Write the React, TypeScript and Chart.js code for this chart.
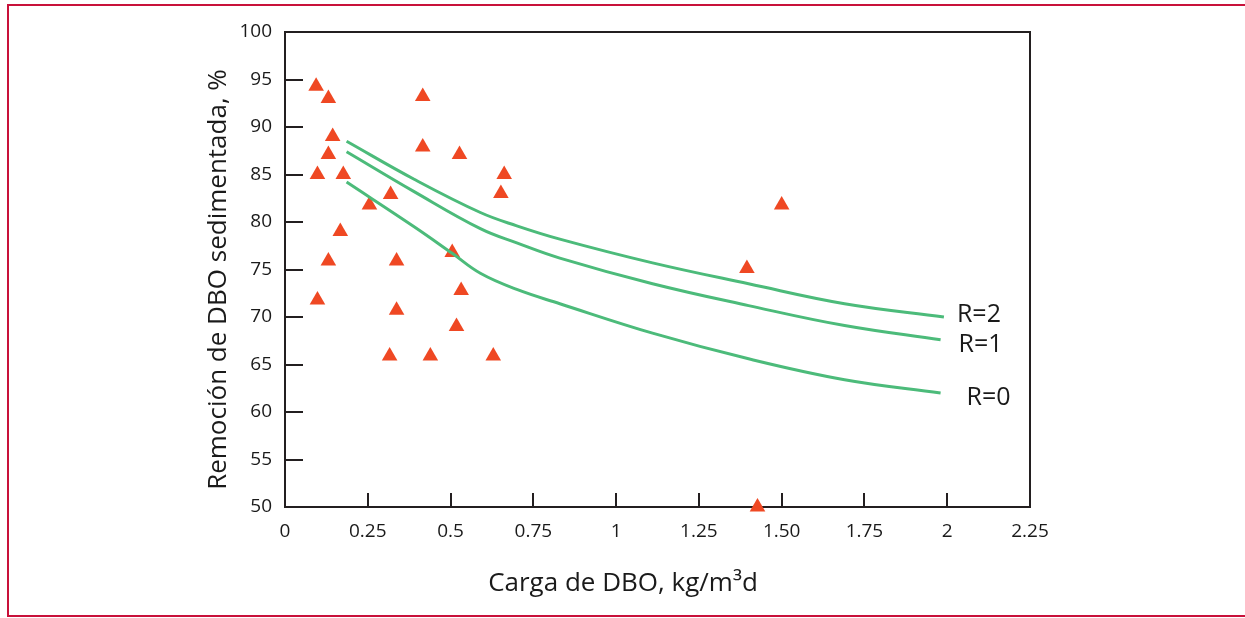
import React, { useEffect, useRef } from "react";
import { Chart, registerables } from "chart.js";

Chart.register(...registerables);

// ---- data ----
const loadX = [0.094, 0.131, 0.416, 0.144, 0.416, 0.131, 0.527, 0.098, 0.176, 0.662, 0.652, 0.319, 0.255, 0.167, 0.131, 0.337, 0.505, 0.532, 0.098, 0.337, 0.518, 0.316, 0.439, 0.629, 1.5, 1.395, 1.427];
const removalY = [94.3, 93.0, 93.2, 89.0, 87.9, 87.1, 87.1, 85.0, 85.0, 85.0, 83.0, 82.9, 81.8, 79.0, 75.9, 75.9, 76.8, 72.8, 71.8, 70.7, 69.0, 65.9, 65.9, 65.9, 81.8, 75.1, 50.0];

const curveR2X = [0.186, 0.39, 0.59, 0.7, 0.83, 1.11, 1.4, 1.69, 1.99];
const curveR2Y = [88.5, 84.5, 81.0, 79.6, 78.2, 75.7, 73.5, 71.4, 70.0];
const curveR1X = [0.186, 0.39, 0.59, 0.7, 0.83, 1.11, 1.4, 1.69, 1.98];
const curveR1Y = [87.4, 83.2, 79.3, 77.8, 76.2, 73.5, 71.2, 69.1, 67.6];
const curveR0X = [0.186, 0.39, 0.505, 0.59, 0.7, 0.83, 1.11, 1.4, 1.69, 1.98];
const curveR0Y = [84.2, 79.5, 76.7, 74.6, 72.9, 71.4, 68.3, 65.6, 63.4, 62.0];
const curveLabels = ["R=2", "R=1", "R=0"];

const xTickValues = [0, 0.25, 0.5, 0.75, 1, 1.25, 1.5, 1.75, 2, 2.25];
const xTickLabels = ["0", "0.25", "0.5", "0.75", "1", "1.25", "1.50", "1.75", "2", "2.25"];
const yTickValues = [50, 55, 60, 65, 70, 75, 80, 85, 90, 95, 100];

const xTitle = "Carga de DBO, kg/m³d";
const yTitle = "Remoción de DBO sedimentada, %";

// ---- styles ----
const FONT = "'Open Sans', 'Noto Sans', sans-serif";
const INK = "#231f20";
const GREEN = "#4cbb7a";
const ORANGE = "#ef4823";
const labelOffsets = [
  { dx: 13, dy: -2 },
  { dx: 18, dy: 5 },
  { dx: 26, dy: 5 },
];

const zip = (xs: number[], ys: number[]) => xs.map((x, i) => ({ x, y: ys[i] }));

export default function App() {
  const ref = useRef<HTMLCanvasElement | null>(null);

  useEffect(() => {
    const canvas = ref.current;
    if (!canvas) return;

    const framePlugin = {
      id: "frameTicks",
      beforeDatasetsDraw(chart: any) {
        const { ctx, chartArea, scales } = chart;
        const { left, top, right, bottom } = chartArea;
        ctx.save();
        ctx.strokeStyle = INK;
        ctx.lineWidth = 2;
        ctx.strokeRect(left, top, right - left, bottom - top);
        ctx.beginPath();
        yTickValues.slice(1, -1).forEach((v) => {
          const y = Math.round(scales.y.getPixelForValue(v));
          ctx.moveTo(left, y);
          ctx.lineTo(left + 18, y);
        });
        xTickValues.slice(1, -1).forEach((v) => {
          const x = Math.round(scales.x.getPixelForValue(v));
          ctx.moveTo(x, bottom);
          ctx.lineTo(x, bottom - 14);
        });
        ctx.stroke();
        ctx.restore();
      },
      afterDraw(chart: any) {
        const { ctx, chartArea, scales } = chart;
        ctx.save();
        ctx.fillStyle = "#1a1a1a";
        ctx.font = `26px ${FONT}`;
        ctx.textAlign = "center";
        ctx.textBaseline = "alphabetic";
        ctx.fillText(xTitle, chartArea.left + 338, chartArea.bottom + 84);
        ctx.save();
        ctx.translate(chartArea.left - 59, (chartArea.top + chartArea.bottom) / 2 + 10);
        ctx.rotate(-Math.PI / 2);
        ctx.fillText(yTitle, 0, 0);
        ctx.restore();

        const ends = [
          [curveR2X, curveR2Y],
          [curveR1X, curveR1Y],
          [curveR0X, curveR0Y],
        ];
        ctx.font = `25px ${FONT}`;
        ctx.textAlign = "left";
        ctx.textBaseline = "middle";
        ends.forEach(([xs, ys], i) => {
          const px = scales.x.getPixelForValue(xs[xs.length - 1]);
          const py = scales.y.getPixelForValue(ys[ys.length - 1]);
          ctx.fillText(curveLabels[i], px + labelOffsets[i].dx, py + labelOffsets[i].dy);
        });
        ctx.restore();
      },
    };

    const curveStyle = {
      showLine: true,
      pointRadius: 0,
      borderColor: GREEN,
      backgroundColor: GREEN,
      borderWidth: 3,
      tension: 0.4,
      fill: false,
    };

    const chart = new Chart(canvas, {
      type: "scatter",
      data: {
        datasets: [
          { label: curveLabels[0], data: zip(curveR2X, curveR2Y), ...curveStyle },
          { label: curveLabels[1], data: zip(curveR1X, curveR1Y), ...curveStyle },
          { label: curveLabels[2], data: zip(curveR0X, curveR0Y), ...curveStyle },
          {
            label: "Datos",
            data: zip(loadX, removalY),
            pointStyle: "triangle",
            pointRadius: 9,
            backgroundColor: ORANGE,
            borderColor: ORANGE,
            borderWidth: 0,
            clip: false,
          } as any,
        ],
      },
      options: {
        animation: false,
        responsive: false,
        devicePixelRatio: 1,
        events: [],
        layout: { padding: { top: 32, right: 215, left: 0, bottom: 0 } },
        plugins: { legend: { display: false }, tooltip: { enabled: false } },
        scales: {
          x: {
            type: "linear",
            min: 0,
            max: 2.25,
            afterBuildTicks: (s: any) => {
              s.ticks = xTickValues.map((v) => ({ value: v }));
            },
            afterFit: (s: any) => {
              s.height = 111;
            },
            grid: { display: false, drawTicks: false },
            border: { display: false },
            ticks: {
              autoSkip: false,
              maxRotation: 0,
              padding: 13,
              color: "#1a1a1a",
              font: { family: FONT, size: 19 },
              callback: (v: any) => {
                const i = xTickValues.findIndex((t) => Math.abs(t - Number(v)) < 1e-6);
                return i >= 0 ? xTickLabels[i] : "";
              },
            },
          },
          y: {
            type: "linear",
            min: 50,
            max: 100,
            afterBuildTicks: (s: any) => {
              s.ticks = yTickValues.map((v) => ({ value: v }));
            },
            afterFit: (s: any) => {
              s.width = 285;
            },
            grid: { display: false, drawTicks: false },
            border: { display: false },
            ticks: {
              autoSkip: false,
              padding: 13,
              color: "#1a1a1a",
              font: { family: FONT, size: 19 },
            },
          },
        },
      },
      plugins: [framePlugin],
    });

    return () => chart.destroy();
  }, []);

  return (
    <div style={{ position: "fixed", left: 0, top: 0, width: 1245, height: 618, background: "#fff", overflow: "hidden" }}>
      <canvas ref={ref} width={1245} height={618} style={{ position: "absolute", left: 0, top: 0, width: 1245, height: 618 }} />
      <div
        style={{
          position: "absolute",
          left: 7,
          top: 4,
          width: 1300,
          height: 613,
          boxSizing: "border-box",
          borderLeft: "2px solid #c8113a",
          borderTop: "2px solid #c8113a",
          borderBottom: "2px solid #c8113a",
          pointerEvents: "none",
        }}
      />
    </div>
  );
}
